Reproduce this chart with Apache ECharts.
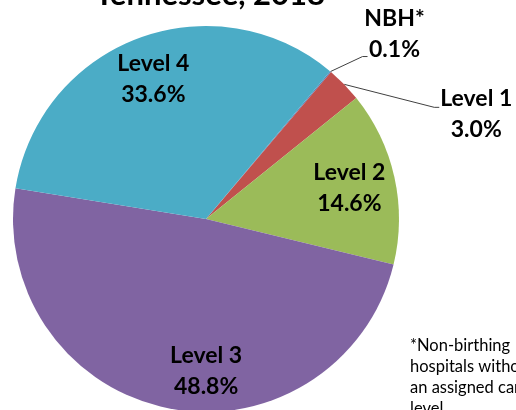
<!DOCTYPE html>
<html>
<head>
<meta charset="utf-8">
<script src="https://cdn.jsdelivr.net/npm/echarts@6/dist/echarts.min.js"></script>
<style>
  html, body { margin: 0; padding: 0; background: #fff; }
  #chart { width: 516px; height: 410px; }
</style>
</head>
<body>
<div id="chart"></div>
<script>
// slices in clockwise order starting just right of 12 o'clock
const levels = ["NBH*", "Level 1", "Level 2", "Level 3", "Level 4"];
const shares = [0.1, 3.0, 14.6, 48.8, 33.6];
const colors = ["#4F81BD", "#C0504D", "#9BBB59", "#8064A2", "#4BACC6"];
const outsideNames = ["NBH*", "Level 1"];

const fontFam = "Lato, 'Liberation Sans', sans-serif";
const center = [206, 219];
const radius = 193;

const sliceData = levels.map((name, i) => ({
  name: name,
  value: shares[i],
  itemStyle: { color: colors[i] },
  label: { show: outsideNames.includes(name) },
  labelLine: { show: outsideNames.includes(name) },
}));

const innerLabelData = levels.map((name, i) => ({
  name: name,
  value: shares[i],
  label: {
    show: !outsideNames.includes(name),
    offset: name === "Level 3" ? [30, 4] : name === "Level 2" ? [-4, 2] : [0, 2],
  },
}));

const fmt = (p) => p.name + "\n" + p.value.toFixed(1) + "%";

// where the outside labels sit, relative to the slice edge point
const outsideOffsets = {
  "NBH*": { label: [64, -37], bend: [32, -15], end: [37, -15] },
  "Level 1": { label: [132, 30], bend: [90, 23], end: [95, 23] },
};

const myChart = echarts.init(document.getElementById("chart"));
myChart.setOption({
  animation: false,
  graphic: [
    {
      type: "text",
      x: 210,
      y: 10,
      style: {
        text: "Tennessee, 2018",
        font: "bold 31px " + fontFam,
        fill: "#000",
        textAlign: "center",
        textVerticalAlign: "bottom",
      },
    },
    {
      type: "text",
      x: 410,
      y: 335,
      style: {
        text: "*Non-birthing\nhospitals without\nan assigned care\nlevel",
        font: "16.5px " + fontFam,
        lineHeight: 21,
        fill: "#000",
        textAlign: "left",
        textVerticalAlign: "top",
      },
    },
  ],
  series: [
    {
      type: "pie",
      center: center,
      radius: radius,
      startAngle: 50,
      clockwise: true,
      silent: true,
      data: sliceData,
      itemStyle: { borderWidth: 0 },
      label: {
        position: "outside",
        formatter: fmt,
        color: "#000",
        fontFamily: fontFam,
        fontWeight: "bold",
        fontSize: 23,
        lineHeight: 31,
        align: "center",
      },
      labelLine: {
        show: true,
        length: 15,
        length2: 20,
        lineStyle: { color: "#404040", width: 1 },
      },
      labelLayout: (params) => {
        const off = outsideOffsets[levels[params.dataIndex]];
        if (!off || !params.labelLinePoints) return {};
        const p0 = params.labelLinePoints[0];
        return {
          x: p0[0] + off.label[0],
          y: p0[1] + off.label[1],
          align: "center",
          verticalAlign: "middle",
          labelLinePoints: [
            [p0[0], p0[1]],
            [p0[0] + off.bend[0], p0[1] + off.bend[1]],
            [p0[0] + off.end[0], p0[1] + off.end[1]],
          ],
        };
      },
    },
    {
      // transparent ring that carries the in-slice labels further out
      type: "pie",
      center: center,
      radius: [103, radius],
      startAngle: 50,
      clockwise: true,
      silent: true,
      data: innerLabelData,
      itemStyle: { color: "rgba(0,0,0,0)", borderWidth: 0 },
      label: {
        position: "inside",
        formatter: fmt,
        color: "#000",
        fontFamily: fontFam,
        fontWeight: "bold",
        fontSize: 23,
        lineHeight: 31,
        align: "center",
      },
      labelLine: { show: false },
    },
  ],
});
</script>
</body>
</html>
